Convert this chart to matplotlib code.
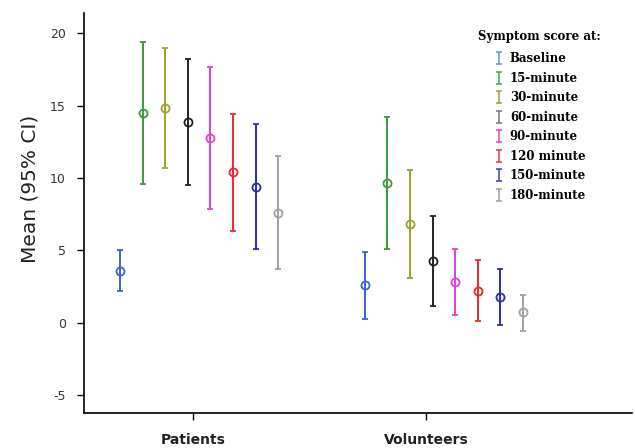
import matplotlib
matplotlib.use("Agg")
import matplotlib.pyplot as plt
from matplotlib.lines import Line2D
from matplotlib.path import Path

groups = ["Patients", "Volunteers"]
series = ["Baseline", "15-minute", "30-minute", "60-minute",
          "90-minute", "120 minute", "150-minute", "180-minute"]
colors = ["#3a63d8", "#3c9a3c", "#a0a030", "#222222",
          "#e040d0", "#e82a2a", "#2b2bb0", "#a0a0a0"]
legend_colors = ["#5b9bd5", "#3cb03c", "#a0a030", "#777777",
                 "#e040d0", "#e04040", "#4040c0", "#a0a0a0"]

# mean, lower and upper 95% CI for each series, [patients, volunteers]
means = [[3.6, 2.6], [14.5, 9.67], [14.8, 6.8], [13.9, 4.26],
         [12.75, 2.8], [10.4, 2.2], [9.4, 1.75], [7.6, 0.7]]
lower = [[2.2, 0.25], [9.6, 5.1], [10.7, 3.1], [9.5, 1.17],
         [7.85, 0.55], [6.3, 0.1], [5.06, -0.15], [3.7, -0.55]]
upper = [[5.0, 4.9], [19.4, 14.2], [19.0, 10.55], [18.2, 7.4],
         [17.7, 5.1], [14.45, 4.35], [13.7, 3.7], [11.5, 1.93]]

# x offset of each series inside a group (group start differs slightly)
group_start = [-0.313, -0.262]
step = 0.097

fig = plt.figure(figsize=(6.35, 4.48), dpi=100)
ax = fig.add_axes([0.132, 0.078, 0.863, 0.893])

for i, name in enumerate(series):
    xs = [g + 1 + group_start[g] + i * step for g in range(len(groups))]
    m = means[i]
    err = [[m[g] - lower[i][g] for g in range(2)],
           [upper[i][g] - m[g] for g in range(2)]]
    ax.errorbar(xs, m, yerr=err, fmt="o", color=colors[i], mfc="none",
                mec=colors[i], ms=5.8, mew=1.3, elinewidth=1.4,
                capsize=2.4, capthick=1.4)

ax.set_xlim(0.532, 2.884)
ax.set_ylim(-6.25, 21.4)
ax.set_xticks([1, 2])
ax.set_xticklabels(groups, fontsize=10, fontweight="bold", color="#222222")
ax.set_yticks([-5, 0, 5, 10, 15, 20])
ax.set_yticklabels(["-5", "0", "5", "10", "15", "20"], fontsize=9,
                   color="#333333")
ax.tick_params(axis="y", direction="out", length=5, width=1, pad=8)
ax.tick_params(axis="x", direction="out", length=5, width=1, pad=9)
ax.spines["top"].set_visible(False)
ax.spines["right"].set_visible(False)
ax.spines["left"].set_linewidth(1.2)
ax.spines["bottom"].set_linewidth(1.2)
ax.set_ylabel("Mean (95% CI)", fontsize=14.5, color="#222222")
ax.yaxis.set_label_coords(-0.08, 0.56)

# small "I" shaped error bar icon for the legend
ibar = Path([(-0.45, -1), (0.45, -1), (0, -1), (0, 1), (-0.45, 1), (0.45, 1)],
            [Path.MOVETO, Path.LINETO, Path.MOVETO, Path.LINETO,
             Path.MOVETO, Path.LINETO])
handles = [Line2D([], [], linestyle="none", marker=ibar, color=c,
                  markersize=9, markeredgewidth=1.1) for c in legend_colors]
leg = ax.legend(handles, series, loc="upper left",
                bbox_to_anchor=(0.7, 0.985), frameon=False,
                title="Symptom score at:", handletextpad=0.45,
                labelspacing=0.55, handlelength=1.0,
                prop={"family": "DejaVu Serif", "weight": "bold", "size": 8.5},
                title_fontproperties={"family": "DejaVu Serif",
                                      "weight": "bold", "size": 8.5})
leg._legend_box.align = "center"
leg._legend_box.sep = 7

fig.savefig("out.png", dpi=100)
